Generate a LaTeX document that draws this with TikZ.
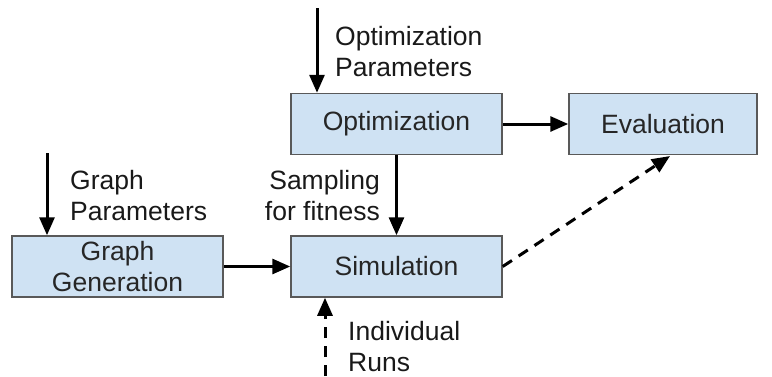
\documentclass[tikz,border=0pt]{standalone}
\usepackage{fontspec}
\setmainfont{Liberation Sans}
\usetikzlibrary{arrows.meta,calc}
\definecolor{boxfill}{HTML}{CFE2F3}
\definecolor{boxline}{HTML}{595959}
\begin{document}
\begin{tikzpicture}[x=1pt,y=-1pt,
  font=\fontsize{26.5}{31}\selectfont,
  procbox/.style={draw=boxline,line width=1.5pt,fill=boxfill,minimum width=211pt,minimum height=61pt,inner sep=0pt,align=center,text=black!85},
  lbl/.style={inner sep=0pt,text=black!90},
  flow/.style={line width=3pt,-{Triangle[length=18pt,width=15pt]}},
  dflow/.style={flow,dash pattern=on 11pt off 8pt}]
\useasboundingbox (0,0) rectangle (772,376);
\node[procbox] (opt) at (396.5,124) {Optimization};
\node[procbox,minimum width=188pt] (eval) at (663,124) {Evaluation};
\node[procbox] (sim) at (396.5,266.5) {Simulation};
\node[procbox] (gg) at (117.5,266.5) {Graph\\Generation};
\coordinate (optin) at (317,8);
\coordinate (gin) at (47,153);
\coordinate (runs) at (325,376);
\coordinate (evin) at (670,156);
\node[lbl,anchor=west,align=left] (optlbl) at (335,52) {Optimization\\Parameters};
\node[lbl,anchor=west,align=left] (glbl) at (70,196) {Graph\\Parameters};
\node[lbl,anchor=east,align=right] (slbl) at (380,196) {Sampling\\for fitness};
\node[lbl,anchor=west,align=left] (rlbl) at (348,347) {Individual\\Runs};
\draw[flow] (optin) -- (optin |- opt.north);
\draw[flow] (gin) -- (gin |- gg.north);
\draw[flow] (opt.south) -- (sim.north);
\draw[flow] (gg.east) -- (sim.west);
\draw[flow] (opt.east) -- (eval.west);
\draw[dflow] (sim.east) -- (evin);
\draw[dflow] (runs) -- (runs |- sim.south);
\end{tikzpicture}
\end{document}
